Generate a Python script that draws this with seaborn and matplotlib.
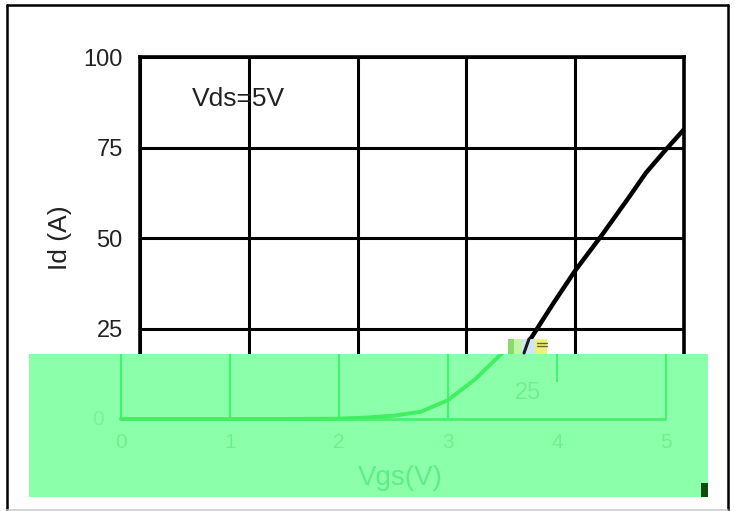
import matplotlib
matplotlib.use("Agg")
import matplotlib.pyplot as plt
from matplotlib.patches import Rectangle
from matplotlib.lines import Line2D
import seaborn as sns
import pandas as pd

# Transfer characteristic, Vds = 5 V
vgs = [0, 0.5, 1, 1.5, 2, 2.25, 2.5, 2.75, 3, 3.25, 3.5, 3.6, 3.8, 4, 4.25, 4.5, 4.65, 4.83, 5]
id_a = [0, 0, 0, 0, 0.1, 0.4, 0.9, 2.0, 5.2, 11, 18.3, 22.6, 32, 41, 51, 61.5, 68, 74.3, 80]
x_ticks = [0, 1, 2, 3, 4, 5]
y_ticks = [0, 25, 50, 75, 100]
condition = "Vds=5V"

df = pd.DataFrame({"Vgs": vgs, "Id": id_a})

sns.set_style("white")
plt.rcParams["font.family"] = ["Liberation Sans", "DejaVu Sans"]

W, H = 735, 511
fig = plt.figure(figsize=(W / 100, H / 100), dpi=100)


def rect(x, y, w, h):
    """Pixel box (top-left origin) -> figure fraction [l, b, w, h]."""
    return [x / W, 1 - (y + h) / H, w / W, h / H]


# ---- main chart -------------------------------------------------------
ax = fig.add_axes(rect(140, 57, 544, 362))
sns.lineplot(data=df, x="Vgs", y="Id", ax=ax, color="black", lw=3.2, zorder=3)
ax.set_xlim(0, 5)
ax.set_ylim(0, 100)
ax.set_xticks(x_ticks)
ax.set_yticks(y_ticks)
ax.grid(True, color="black", lw=2.2)
ax.tick_params(length=0, pad=12.5, labelsize=17, colors="#222222")
ax.set_xlabel("")
ax.set_ylabel("Id (A)", fontsize=19, labelpad=8, color="#222222")
for s in ax.spines.values():
    s.set_color("black")
    s.set_linewidth(2.6)
ax.text(0.475, 88.5, condition, fontsize=19, color="#222222", va="center")

# ---- green panel over the lower part ---------------------------------
gx0, gy0, gw, gh = 29, 354, 679, 143
ov = fig.add_axes(rect(gx0, gy0, gw, gh))
ov.set_facecolor("#8cffaa")
# same scale as the main chart, offset 19 px to the left
ox = lambda px: (px - 121) / 109
oy = lambda py: (419 - py) / 3.62
ov.set_xlim(ox(gx0), ox(gx0 + gw))
ov.set_ylim(oy(gy0 + gh), oy(gy0))
for s in ov.spines.values():
    s.set_visible(False)
ov.set_xticks([])
ov.set_yticks([])

gline = "#48f070"
for v in [0, 1, 2, 3, 5]:
    ov.vlines(v, 0, 100, color=gline, lw=1.6)
ov.vlines(4, oy(382), 100, color=gline, lw=1.4)
ov.hlines(0, 0, 5, color=gline, lw=2.0)
sns.lineplot(data=df, x="Vgs", y="Id", ax=ov, color="#40f060", lw=2.8)
ov.set_xlabel("")
ov.set_ylabel("")

gtext = "#72ee92"
for v in x_ticks:
    ov.text(v, oy(442), str(v), ha="center", va="center", fontsize=15, color=gtext)
ov.text(ox(98), 0, "0", ha="center", va="center", fontsize=15, color="#7cf29a")
ov.text(ox(528), oy(393), "25", ha="center", va="center", fontsize=17, color=gtext)
ov.text(2.56, oy(478), "Vgs(V)", ha="center", va="center", fontsize=20, color="#62ec86")

# small colour fragment near the curve and the dark block in the corner
for (x, y, w, h, c) in [
    (508, 339, 6, 15, "#8ed870"),
    (514, 339, 8, 15, "#c2f5a4"),
    (522, 339, 13, 15, "#cfe6f6"),
    (535, 339, 12, 15, "#eef27a"),
]:
    fig.add_artist(Rectangle(rect(x, y, w, h)[:2], w / W, h / H,
                             transform=fig.transFigure, color=c, lw=0))
fig.add_artist(Line2D([529 / W, 524 / W], [1 - 339 / H, 1 - 353 / H],
                      transform=fig.transFigure, color="#1a1a1a", lw=2.2))
for yy in (343, 346):
    fig.add_artist(Line2D([537 / W, 547 / W], [1 - yy / H, 1 - yy / H],
                          transform=fig.transFigure, color="#6b6a20", lw=1))
fig.add_artist(Rectangle(rect(701, 483, 7, 14)[:2], 7 / W, 14 / H,
                         transform=fig.transFigure, color="#0b4d12", lw=0))

# ---- outer frame ------------------------------------------------------
fx0, fy0, fx1, fy1 = 7.5, 5.5, 727.5, 509.5
frame = dict(transform=fig.transFigure, color="black", lw=1.8)
fig.add_artist(Line2D([fx0 / W, fx0 / W], [1 - fy0 / H, 1 - fy1 / H], **frame))
fig.add_artist(Line2D([fx1 / W, fx1 / W], [1 - fy0 / H, 1 - fy1 / H], **frame))
fig.add_artist(Line2D([fx0 / W, fx1 / W], [1 - fy0 / H, 1 - fy0 / H], **frame))
fig.add_artist(Line2D([fx0 / W, fx1 / W], [1 - fy1 / H, 1 - fy1 / H],
                      transform=fig.transFigure, color="#cccccc", lw=1.2))

fig.savefig("out.png", dpi=100)
